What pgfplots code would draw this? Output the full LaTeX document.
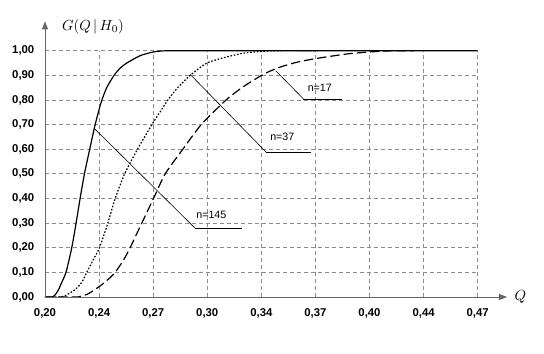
\documentclass[border=0pt]{standalone}
\usepackage[no-math]{fontspec}
\setmainfont{Liberation Sans}
\usepackage{pgfplots}
\pgfplotsset{compat=1.18}
\usetikzlibrary{arrows.meta}
\begin{document}
\begin{tikzpicture}
\path[use as bounding box] (-33.75pt,-42.75pt) rectangle (374.25pt,222.75pt);
\begin{axis}[
  at={(0,0)}, anchor=south west,
  scale only axis, width=324.5pt, height=184.7pt,
  xmin=0.2, xmax=0.47, ymin=0, ymax=1,
  axis x line=bottom, axis y line=left,
  axis line style={draw=none},
  clip=false,
  xtick={0.2,0.23375,0.2675,0.30125,0.335,0.36875,0.4025,0.43625,0.47},
  xticklabels={{0,20},{0,24},{0,27},{0,30},{0,34},{0,37},{0,40},{0,44},{0,47}},
  ytick={0,0.1,0.2,0.3,0.4,0.5,0.6,0.7,0.8,0.9,1},
  yticklabels={{0,00},{0,10},{0,20},{0,30},{0,40},{0,50},{0,60},{0,70},{0,80},{0,90},{1,00}},
  major tick length=0pt,
  tick label style={font=\fontsize{8.5}{10}\selectfont\bfseries},
  xticklabel style={yshift=-5pt},
  yticklabel style={xshift=-4.5pt},
  grid=major,
  major grid style={gray!90, line width=0.6pt, dash pattern=on 3pt off 2.25pt},
]
% n=145
\addplot[black, line width=0.9pt, smooth, tension=0.4] coordinates {
(0.2000,0) (0.2045,0) (0.2065,0.01) (0.2085,0.03) (0.2098,0.05) (0.2131,0.10)
(0.2167,0.20) (0.2194,0.30) (0.2219,0.40) (0.2246,0.50) (0.2279,0.60)
(0.2313,0.70) (0.2350,0.79) (0.2385,0.85) (0.2431,0.90) (0.2470,0.93)
(0.2510,0.95) (0.2594,0.98) (0.2677,0.995) (0.2760,1.0) (0.3000,1.0) (0.4700,1.0)};
% n=37
\addplot[black, line width=0.9pt, smooth, tension=0.4, dash pattern=on 1.2pt off 1.3pt] coordinates {
(0.2000,0) (0.2100,0) (0.2125,0.005) (0.2188,0.03) (0.2230,0.06) (0.2260,0.10)
(0.2300,0.15) (0.2340,0.20) (0.2392,0.30) (0.2438,0.40) (0.2497,0.50)
(0.2577,0.60) (0.2667,0.70) (0.2717,0.75) (0.2767,0.80) (0.2828,0.85)
(0.2906,0.90) (0.3010,0.95) (0.3135,0.975) (0.3260,0.992) (0.3425,1.0) (0.3700,1.0)};
% n=17
\addplot[black, line width=0.9pt, smooth, tension=0.4, dash pattern=on 7pt off 3pt] coordinates {
(0.2000,0) (0.2190,0) (0.2219,0.002) (0.2260,0.01) (0.2300,0.025) (0.2354,0.05)
(0.2400,0.075) (0.2438,0.10) (0.2490,0.15) (0.2531,0.20) (0.2604,0.30)
(0.2677,0.40) (0.2750,0.50) (0.2860,0.60) (0.2975,0.70) (0.3130,0.80)
(0.3240,0.855) (0.3365,0.905) (0.3460,0.932) (0.3570,0.953) (0.3688,0.968) (0.3885,0.987)
(0.4025,0.995) (0.4175,1.0) (0.4300,1.0)};
% axis lines with arrows
\draw[gray!80!black, line width=0.7pt, -{Triangle[length=6pt,width=4.5pt]}] (rel axis cs:0,0) -- ([xshift=22pt]rel axis cs:1,0);
\draw[gray!80!black, line width=0.7pt, -{Triangle[length=6pt,width=4.5pt]}] (rel axis cs:0,0) -- ([yshift=22pt]rel axis cs:0,1);
\node at ([xshift=32pt]rel axis cs:1,0) {\fontsize{11}{13}\selectfont$Q$};
\node at ([xshift=36pt,yshift=18pt]rel axis cs:0,1) {\fontsize{11}{13}\selectfont$G(Q\,|\,H_{0})$};
% annotations
\draw[black, line width=0.45pt] (axis cs:0.2313,0.681) -- (axis cs:0.29375,0.279);
\draw[black, line width=0.75pt] (axis cs:0.29375,0.279) -- (axis cs:0.3229,0.279);
\node[font=\fontsize{8}{9}\selectfont] at (axis cs:0.3038,0.332) {n=145};
\draw[black, line width=0.45pt] (axis cs:0.2906,0.904) -- (axis cs:0.3381,0.5875);
\draw[black, line width=0.75pt] (axis cs:0.3381,0.5875) -- (axis cs:0.3663,0.5875);
\node[font=\fontsize{8}{9}\selectfont] at (axis cs:0.3481,0.650) {n=37};
\draw[black, line width=0.45pt] (axis cs:0.3440,0.919) -- (axis cs:0.3613,0.804);
\draw[black, line width=0.75pt] (axis cs:0.3613,0.804) -- (axis cs:0.3856,0.804);
\node[font=\fontsize{8}{9}\selectfont] at (axis cs:0.3715,0.849) {n=17};
\end{axis}
\end{tikzpicture}
\end{document}
